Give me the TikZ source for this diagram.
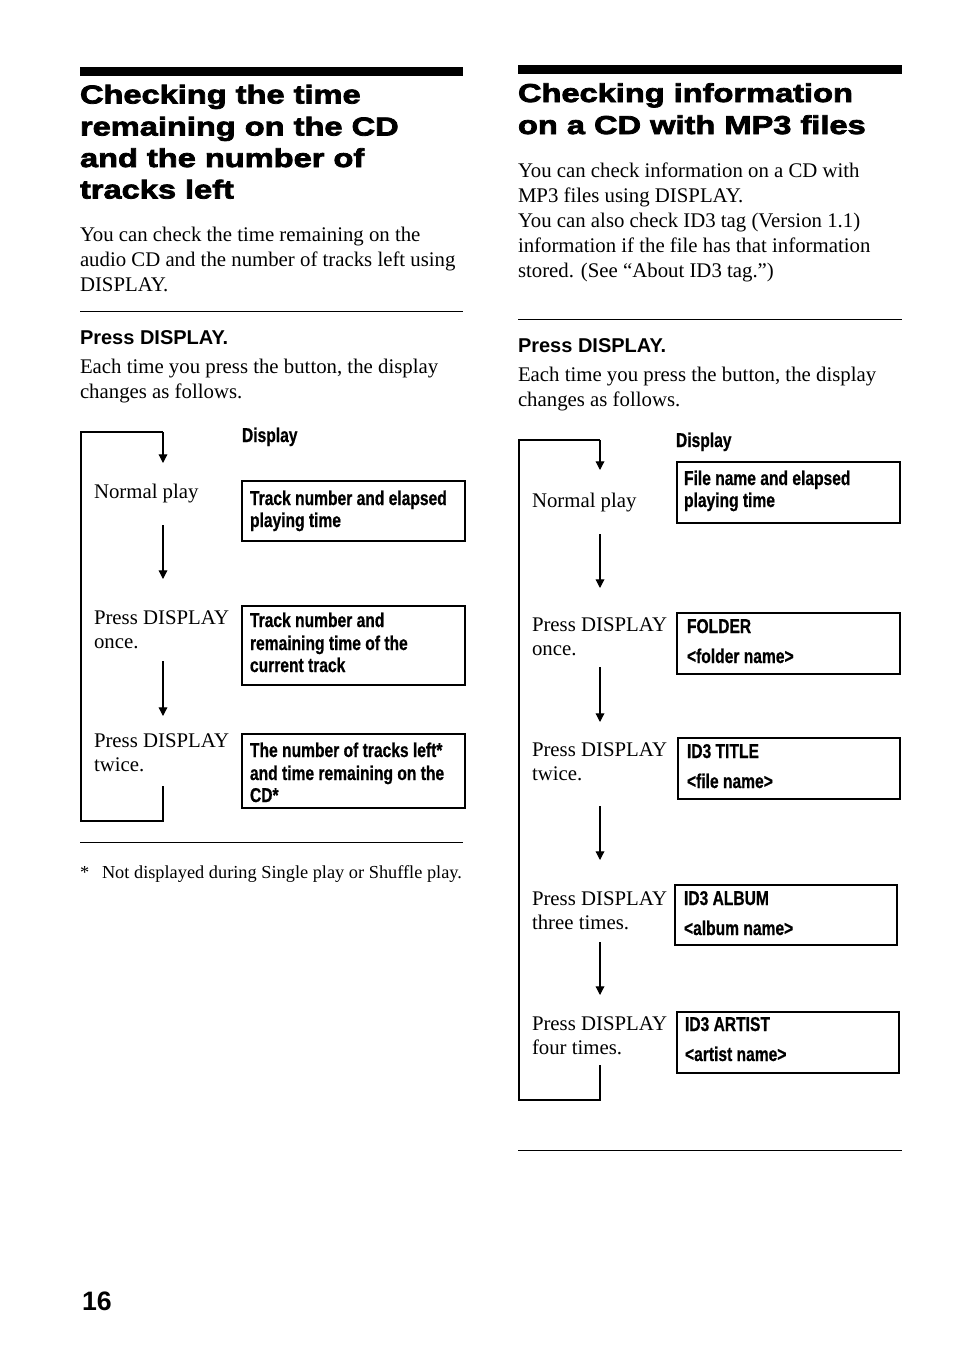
\documentclass[tikz,border=0pt]{standalone}
\usepackage{fontspec}
\setmainfont{Liberation Serif}
\newfontfamily\headfont{Liberation Sans}[FakeStretch=1.26,FakeBold=3]
\newfontfamily\sansb{Liberation Sans}
\newfontfamily\condfont{Liberation Sans}[FakeStretch=0.78,FakeBold=0.6]
\usetikzlibrary{arrows.meta}
\begin{document}
\begin{tikzpicture}[x=0.75pt,y=-0.75pt,
  txt/.style={anchor=base west,inner sep=0pt,outer sep=0pt},
  body/.style={txt,font=\fontsize{15.6}{18.75}\selectfont},
  head/.style={txt,font=\headfont\bfseries\fontsize{19.4}{23.8}\selectfont},
  sub/.style={txt,font=\sansb\bfseries\fontsize{15}{18}\selectfont},
  cond/.style={txt,font=\condfont\bfseries\fontsize{15}{18}\selectfont},
  foot/.style={txt,font=\fontsize{13.75}{16}\selectfont},
  pagenum/.style={txt,font=\sansb\bfseries\fontsize{20}{24}\selectfont},
  bar/.style={fill=black},
  rule/.style={line width=0.75pt},
  dbox/.style={line width=1.1pt},
  loopline/.style={line width=0.8pt},
  flow/.style={line width=0.9pt,-{Triangle[width=6.5pt,length=6.5pt]}},
]
\useasboundingbox[fill=white] (0,0) rectangle (954,1357);

% ================= LEFT COLUMN =================
\fill[bar] (80,67) rectangle (463,76);
\node[head] (lh1) at (80,103.5) {Checking the time};
\node[head] (lh2) at (80,135.5) {remaining on the CD};
\node[head] (lh3) at (80,167) {and the number of};
\node[head] (lh4) at (80,198.5) {tracks left};

\node[body] (lb1) at (80,241.5) {You can check the time remaining on the};
\node[body] (lb2) at (80,266.5) {audio CD and the number of tracks left using};
\node[body] (lb3) at (80,291.5) {DISPLAY.};

\draw[rule] (80,311) -- (463,311);
\node[sub] (lp) at (80,344) {Press DISPLAY.};
\node[body] (le1) at (80,373) {Each time you press the button, the display};
\node[body] (le2) at (80,398) {changes as follows.};

\node[cond] (ldisp) at (242,442) {Display};

% labels
\node[body] (ln) at (94,498) {Normal play};
\node[body] (lo1) at (94,624) {Press DISPLAY};
\node[body] (lo2) at (94,648) {once.};
\node[body] (lt1) at (94,747) {Press DISPLAY};
\node[body] (lt2) at (94,771) {twice.};

% boxes
\draw[dbox] (242,481) rectangle (465,541);
\node[cond] (lx1a) at (250,505) {Track number and elapsed};
\node[cond] (lx1b) at (250,527) {playing time};
\draw[dbox] (242,606) rectangle (465,685);
\node[cond] (lx2a) at (250,627) {Track number and};
\node[cond] (lx2b) at (250,650) {remaining time of the};
\node[cond] (lx2c) at (250,672) {current track};
\draw[dbox] (242,734) rectangle (465,808);
\node[cond] (lx3a) at (250,757) {The number of tracks left*};
\node[cond] (lx3b) at (250,780) {and time remaining on the};
\node[cond] (lx3c) at (250,802) {CD*};

% loop and arrows
\coordinate (Lt) at (163,432);
\coordinate (Ltl) at (81,432);
\coordinate (Lbl) at (81,821);
\coordinate (Lb) at (163,821);
\coordinate (Lbs) at (163,786);
\coordinate (La1) at (163,463);
\coordinate (La2s) at (163,525);
\coordinate (La2e) at (163,579);
\coordinate (La3s) at (163,661);
\coordinate (La3e) at (163,716);
\draw[loopline] (Lbs) -- (Lb) -- (Lbl) -- (Ltl) -- (Lt);
\draw[flow] (Lt) -- (La1);
\draw[flow] (La2s) -- (La2e);
\draw[flow] (La3s) -- (La3e);

\draw[rule] (80,842) -- (463,842);
\node[foot] (lfs) at (80,878) {*};
\node[foot] (lft) at (102,878) {Not displayed during Single play or Shuffle play.};

% ================= RIGHT COLUMN =================
\fill[bar] (518,65) rectangle (902,74);
\node[head] (rh1) at (518,102) {Checking information};
\node[head] (rh2) at (518,134) {on a CD with MP3 files};

\node[body] (rb1) at (518,177) {You can check information on a CD with};
\node[body] (rb2) at (518,202) {MP3 files using DISPLAY.};
\node[body] (rb3) at (518,227) {You can also check ID3 tag (Version 1.1)};
\node[body] (rb4) at (518,252) {information if the file has that information};
\node[body] (rb5) at (518,277) {stored. (See “About ID3 tag.”)};

\draw[rule] (518,319.5) -- (902,319.5);
\node[sub] (rp) at (518,352) {Press DISPLAY.};
\node[body] (re1) at (518,381) {Each time you press the button, the display};
\node[body] (re2) at (518,406) {changes as follows.};

\node[cond] (rdisp) at (676,447) {Display};

% labels
\node[body] (rn) at (532,507) {Normal play};
\node[body] (ro1) at (532,631) {Press DISPLAY};
\node[body] (ro2) at (532,655) {once.};
\node[body] (rt1) at (532,756) {Press DISPLAY};
\node[body] (rt2) at (532,780) {twice.};
\node[body] (rr1) at (532,905) {Press DISPLAY};
\node[body] (rr2) at (532,929) {three times.};
\node[body] (rf1) at (532,1030) {Press DISPLAY};
\node[body] (rf2) at (532,1054) {four times.};

% boxes
\draw[dbox] (677,462) rectangle (900,523);
\node[cond] (rx1a) at (684,485) {File name and elapsed};
\node[cond] (rx1b) at (684,507) {playing time};
\draw[dbox] (677,613) rectangle (900,674);
\node[cond] (rx2a) at (687,633) {FOLDER};
\node[cond] (rx2b) at (687,663) {<folder name>};
\draw[dbox] (678,738) rectangle (900,799);
\node[cond] (rx3a) at (687,758) {ID3 TITLE};
\node[cond] (rx3b) at (687,788) {<file name>};
\draw[dbox] (675,885) rectangle (897,945);
\node[cond] (rx4a) at (684,905) {ID3 ALBUM};
\node[cond] (rx4b) at (684,935) {<album name>};
\draw[dbox] (677,1012) rectangle (899,1073);
\node[cond] (rx5a) at (685,1031) {ID3 ARTIST};
\node[cond] (rx5b) at (685,1061) {<artist name>};

% loop and arrows
\coordinate (Rt) at (600,440);
\coordinate (Rtl) at (519,440);
\coordinate (Rbl) at (519,1100);
\coordinate (Rb) at (600,1100);
\coordinate (Rbs) at (600,1065);
\coordinate (Ra1) at (600,470);
\coordinate (Ra2s) at (600,534);
\coordinate (Ra2e) at (600,588);
\coordinate (Ra3s) at (600,667);
\coordinate (Ra3e) at (600,722);
\coordinate (Ra4s) at (600,806);
\coordinate (Ra4e) at (600,860);
\coordinate (Ra5s) at (600,942);
\coordinate (Ra5e) at (600,995);
\draw[loopline] (Rbs) -- (Rb) -- (Rbl) -- (Rtl) -- (Rt);
\draw[flow] (Rt) -- (Ra1);
\draw[flow] (Ra2s) -- (Ra2e);
\draw[flow] (Ra3s) -- (Ra3e);
\draw[flow] (Ra4s) -- (Ra4e);
\draw[flow] (Ra5s) -- (Ra5e);

\draw[rule] (518,1150) -- (902,1150);

\node[pagenum] (pg) at (82,1310) {16};
\end{tikzpicture}
\end{document}
